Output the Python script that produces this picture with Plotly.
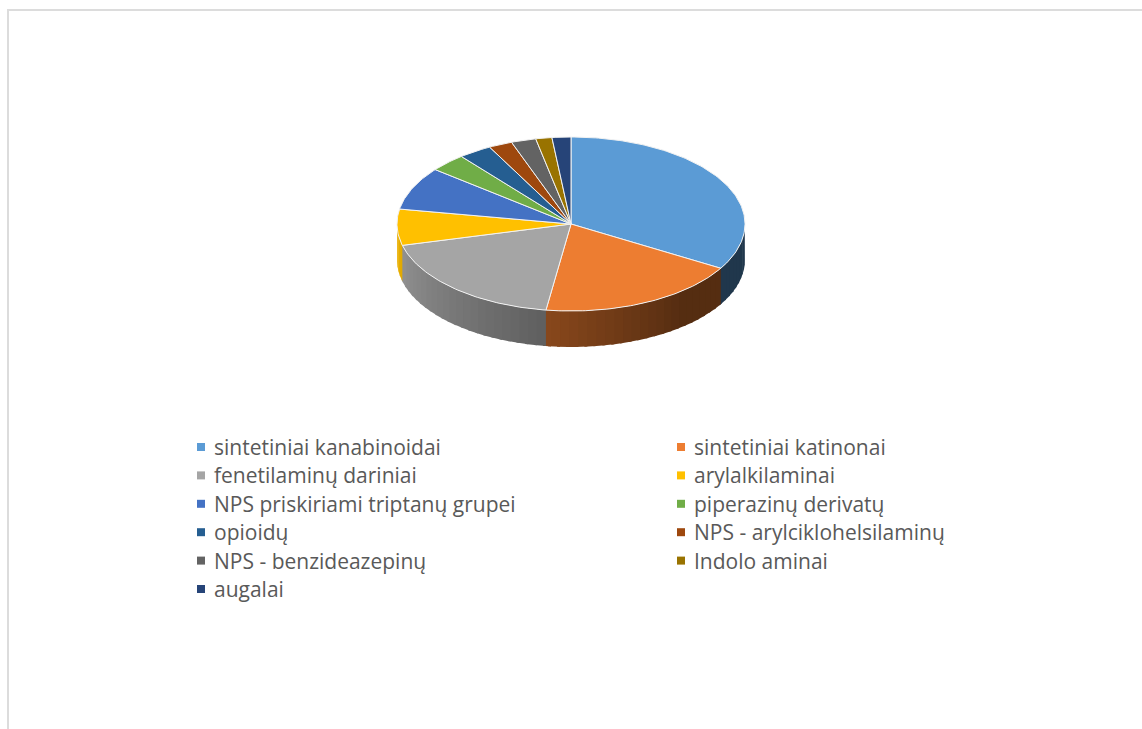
import math
import plotly.graph_objects as go

categories = ["sintetiniai kanabinoidai", "sintetiniai katinonai", "fenetilaminų dariniai",
              "arylalkilaminai", "NPS priskiriami triptanų grupei", "piperazinų derivatų",
              "opioidų", "NPS - arylciklohelsilaminų", "NPS - benzideazepinų",
              "Indolo aminai", "augalai"]
values = [33.5, 18.8, 18.75, 6.7, 8.0, 3.4, 3.1, 2.2, 2.3, 1.5, 1.75]
colors = ["#5b9bd5", "#ed7d31", "#a5a5a5", "#ffc000", "#4472c4", "#70ad47",
          "#255e91", "#9e480e", "#636363", "#997300", "#264478"]

CX, CY, RX, RY, DEPTH = 571, 224, 174, 87, 36
STEP = 3.0


def pt(t, dy=0):
    a = math.radians(t)
    return CX + RX * math.sin(a), CY - RY * math.cos(a) + dy


def arc(t0, t1, dy=0):
    n = max(2, int(abs(t1 - t0) / 1.0) + 1)
    return [pt(t0 + (t1 - t0) * i / (n - 1), dy) for i in range(n)]


def shade(hexc, f):
    r, g, b = (int(hexc[i:i + 2], 16) for i in (1, 3, 5))
    return f"rgb({int(r * f)},{int(g * f)},{int(b * f)})"


def wall_factor(t):
    return min(0.92, 0.36 + 0.54 * max(0.0, t - 140) / 120)


fig = go.Figure()
total = sum(values)
edges = [0.0]
for v in values:
    edges.append(edges[-1] + v / total * 360)

# side walls: painted left to right from the right rim, each band overlapping the next
for i, c in enumerate(colors):
    lo, hi = max(edges[i], 90), min(edges[i + 1], 270)
    t = lo
    while t < hi:
        t2 = min(t + STEP, hi)
        t3 = min(t2 + 1.0, 270)
        top = arc(t, t3)
        bot = arc(t3, t, DEPTH)
        poly = top + bot + [top[0]]
        col = shade(c, wall_factor((t + t2) / 2))
        fig.add_trace(go.Scatter(x=[p[0] for p in poly], y=[p[1] for p in poly], mode="lines",
                                 fill="toself", fillcolor=col, line=dict(width=0),
                                 showlegend=False, hoverinfo="skip"))
        t = t2

# top face
for i, (name, c) in enumerate(zip(categories, colors)):
    poly = [(CX, CY)] + arc(edges[i], edges[i + 1]) + [(CX, CY)]
    fig.add_trace(go.Scatter(x=[p[0] for p in poly], y=[p[1] for p in poly], mode="lines",
                             fill="toself", fillcolor=c, line=dict(color="#f2f2f2", width=1),
                             name=name, showlegend=False, hoverinfo="name"))

# legend: two columns of square keys with labels
LEG_X = [201, 681]
LEG_Y0, LEG_DY = 447, 28.4
annotations = []
for i, (name, c) in enumerate(zip(categories, colors)):
    x, y = LEG_X[i % 2], LEG_Y0 + LEG_DY * (i // 2)
    fig.add_trace(go.Scatter(x=[x], y=[y], mode="markers", name=name, showlegend=False,
                             marker=dict(symbol="square", size=8, color=c, line=dict(width=0)),
                             hoverinfo="name"))
    annotations.append(dict(x=x + 12, y=y, xref="x", yref="y", text=name, showarrow=False,
                            xanchor="left", yanchor="middle", xshift=-1,
                            font=dict(family="Open Sans", size=21, color="#595959")))

fig.update_layout(
    width=1142, height=729, margin=dict(l=0, r=0, t=0, b=0, autoexpand=False),
    paper_bgcolor="white", plot_bgcolor="white", showlegend=False,
    xaxis=dict(range=[0, 1142], visible=False, fixedrange=True),
    yaxis=dict(range=[729, 0], visible=False, fixedrange=True),
    shapes=[dict(type="rect", xref="x", yref="y", x0=8, y0=10, x1=1200, y1=800,
                 line=dict(color="#dcdcdc", width=2), layer="below")],
    annotations=annotations,
)
fig.write_html("out.html", post_script="document.body.style.margin='0';",
               config=dict(displayModeBar=False))
